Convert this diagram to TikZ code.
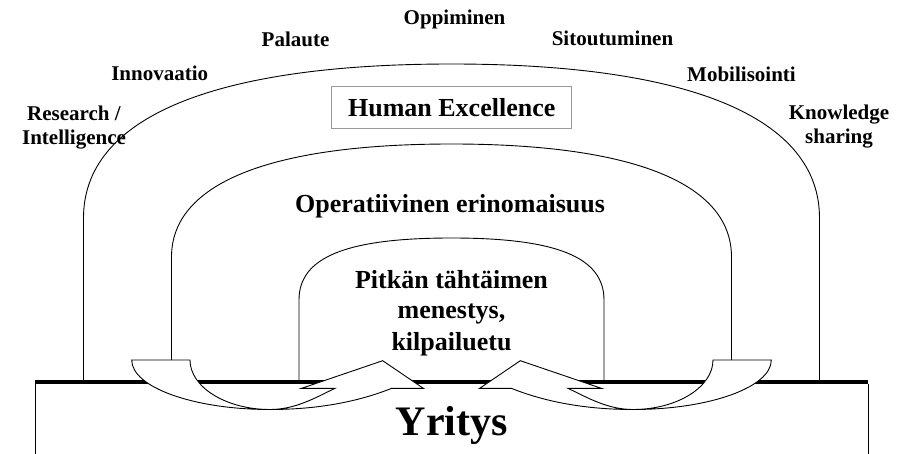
\documentclass[tikz,border=0pt]{standalone}
\usepackage{fontspec}
\setmainfont{Liberation Serif}
\begin{document}
\begin{tikzpicture}[x=1pt,y=-1pt,
  lbl/.style={font=\fontsize{21}{24}\selectfont\bfseries, inner sep=0pt, anchor=base},
  biglbl/.style={font=\fontsize{26}{30}\selectfont\bfseries, inner sep=0pt, anchor=base},
  archline/.style={draw=black, line width=0.9pt},
  flowarrow/.style={draw=black, fill=white, line width=0.9pt, line join=miter},
  hebox/.style={draw=black!40, line width=0.9pt, inner sep=0pt, minimum width=240pt, minimum height=42pt,
                font=\fontsize{26}{30}\selectfont\bfseries},
  ground/.style={draw=black, line width=4pt}]
\useasboundingbox (0,0) rectangle (913,454);

% arches
\draw[archline] (83.5,382) -- (83.5,218)
  .. controls (83.5,117.9) and (212.3,64) .. (451.5,64)
  .. controls (690.7,64) and (819.5,117.9) .. (819.5,218) -- (819.5,382);
\draw[archline] (171.5,382) -- (171.5,257)
  .. controls (171.5,183.5) and (269.5,144) .. (451.5,144)
  .. controls (633.5,144) and (731.5,183.5) .. (731.5,257) -- (731.5,382);
\draw[archline] (299,382) -- (299,300)
  .. controls (299,257.2) and (346.3,238) .. (451.5,238)
  .. controls (556.7,238) and (604,257.2) .. (604,300) -- (604,382);

% ground line and company box
\draw[ground] (35,382) -- (868,382);
\draw[archline] (35,384) -- (35,454);
\draw[archline] (868,384) -- (868,454);

% curved arrows
\newcommand{\flowshape}{%
  \draw[flowarrow] (131.7,360) -- (190,360)
    .. controls (190,387) and (225.8,409.5) .. (270,409.5)
    .. controls (320,409.5) and (360,401) .. (391.7,388.3)
    -- (423.3,388.3) -- (382.7,360.7) -- (301.7,388.3) -- (335,388.3)
    .. controls (315,398) and (295,409.5) .. (270,409.5)
    .. controls (193.7,409.5) and (131.7,387.3) .. (131.7,360) -- cycle;}
\begin{scope}
  \flowshape
\end{scope}
\begin{scope}[xshift=903pt, xscale=-1]
  \flowshape
\end{scope}

% labels
\node[lbl] (opp) at (454.5,25) {Oppiminen};
\node[lbl] (pal) at (295.5,46.5) {Palaute};
\node[lbl] (sit) at (612.5,46) {Sitoutuminen};
\node[lbl] (inn) at (159.7,81) {Innovaatio};
\node[lbl] (mob) at (741.5,81.5) {Mobilisointi};
\node[lbl] (res1) at (74,121) {Research /};
\node[lbl] (res2) at (74,145) {Intelligence};
\node[lbl] (kno1) at (839,119.5) {Knowledge};
\node[lbl] (kno2) at (839,143.5) {sharing};

\node[hebox] (he) at (451.7,107.2) {Human Excellence};
\node[biglbl] (ope) at (450,212.7) {Operatiivinen erinomaisuus};
\node[biglbl] (pit1) at (451.5,288.5) {Pitkän tähtäimen};
\node[biglbl] (pit2) at (451.5,318.5) {menestys,};
\node[biglbl] (pit3) at (451.5,350) {kilpailuetu};

\node[font=\fontsize{42}{48}\selectfont\bfseries, inner sep=0pt, anchor=base] (yri) at (451.7,435) {Yritys};
\end{tikzpicture}
\end{document}
